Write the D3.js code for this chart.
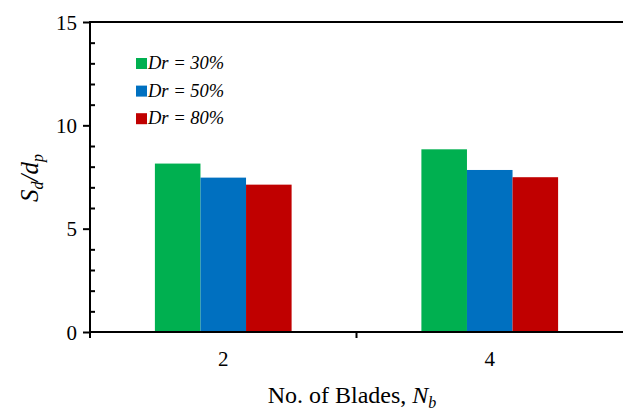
<!DOCTYPE html>
<html>
<head>
<meta charset="utf-8">
<script src="https://cdn.jsdelivr.net/npm/d3@7"></script>
<style>
  html, body { margin: 0; padding: 0; background: #fff; }
  svg text { font-family: "Liberation Serif", "DejaVu Serif", serif; }
</style>
</head>
<body>
<div id="chart"></div>
<script>
// Blade count categories and separation ratio S_d/d_p for each relative density
const categories = ["2", "4"];
const seriesNames = ["Dr = 30%", "Dr = 50%", "Dr = 80%"];
const dr30 = [8.15, 8.84];
const dr50 = [7.47, 7.84];
const dr80 = [7.13, 7.49];
const seriesColors = ["#00b050", "#0070c0", "#c00000"];
const yTicks = [0, 5, 10, 15];
const yMinorTicks = [1, 2, 3, 4, 6, 7, 8, 9, 11, 12, 13, 14];

const FONT = "Liberation Serif";
const W = 623, H = 411;
const margin = { left: 90, right: 0, top: 22, bottom: 79 };
const iw = W - margin.left - margin.right;
const ih = H - margin.top - margin.bottom;

const svg = d3.select("#chart").append("svg")
  .attr("width", W).attr("height", H).attr("font-family", FONT);

const g = svg.append("g").attr("transform", `translate(${margin.left},${margin.top})`);

const x = d3.scaleBand().domain(categories).range([0, iw]).paddingInner(0).paddingOuter(0);
const y = d3.scaleLinear().domain([0, 15]).range([ih, 0]);
const groupW = x.bandwidth() * 0.513;
const xs = d3.scaleBand().domain(seriesNames).range([0, groupW]).padding(0);

const series = [dr30, dr50, dr80];
const rows = categories.map((c, i) => ({ cat: c, vals: series.map((s, k) => ({ name: seriesNames[k], v: s[i], color: seriesColors[k] })) }));

// bars
const grp = g.selectAll(".grp").data(rows).join("g")
  .attr("transform", d => `translate(${x(d.cat) + (x.bandwidth() - groupW) / 2},0)`);
grp.selectAll("rect").data(d => d.vals).join("rect")
  .attr("x", d => xs(d.name))
  .attr("width", xs.bandwidth())
  .attr("y", d => y(d.v))
  .attr("height", d => y(0) - y(d.v))
  .attr("fill", d => d.color);

// top frame line
g.append("line").attr("x1", 0).attr("x2", iw).attr("y1", 0).attr("y2", 0)
  .attr("stroke", "#000").attr("stroke-width", 2);

// y axis: major ticks outside, minor ticks inside
const yAxis = d3.axisLeft(y).tickValues(yTicks).tickSize(7).tickPadding(6).tickFormat(d3.format("d"));
const ya = g.append("g").call(yAxis).attr("font-family", FONT);
ya.select(".domain").remove();
ya.selectAll(".tick line").attr("stroke", "#000").attr("stroke-width", 2);
ya.selectAll(".tick text").attr("font-size", 21).attr("fill", "#000").attr("dy", "0.34em");
const yMinor = g.append("g").call(d3.axisRight(y).tickValues(yMinorTicks).tickSize(5).tickFormat(""));
yMinor.select(".domain").remove();
yMinor.selectAll(".tick line").attr("stroke", "#000").attr("stroke-width", 2);
g.append("line").attr("x1", 0).attr("x2", 0).attr("y1", -1).attr("y2", ih + 6)
  .attr("stroke", "#000").attr("stroke-width", 2);

// x axis: ticks at category boundaries, labels centered
const xa = g.append("g").attr("transform", `translate(0,${ih})`);
xa.append("line").attr("x1", 0).attr("x2", iw).attr("stroke", "#000").attr("stroke-width", 2);
xa.selectAll(".bt").data(categories.slice(1)).join("line")
  .attr("x1", d => x(d)).attr("x2", d => x(d)).attr("y1", 0).attr("y2", 6)
  .attr("stroke", "#000").attr("stroke-width", 2);
xa.selectAll(".lbl").data(categories).join("text")
  .attr("x", d => x(d) + x.bandwidth() / 2).attr("y", 34)
  .attr("text-anchor", "middle").attr("font-size", 21).attr("fill", "#000").text(d => d);

// axis titles
const xt = svg.append("text").attr("x", 352).attr("y", 403).attr("text-anchor", "middle")
  .attr("font-size", 24).attr("fill", "#000");
xt.append("tspan").text("No. of Blades, ");
xt.append("tspan").attr("font-style", "italic").text("N");
xt.append("tspan").attr("font-style", "italic").attr("font-size", 16).attr("dy", 5).text("b");

const yt = svg.append("text").attr("transform", "translate(38,178) rotate(-90)")
  .attr("text-anchor", "middle").attr("font-size", 25).attr("font-style", "italic").attr("fill", "#000");
yt.append("tspan").text("S");
yt.append("tspan").attr("font-size", 16).attr("dy", 5).text("d");
yt.append("tspan").attr("dy", -5).text("/d");
yt.append("tspan").attr("font-size", 16).attr("dy", 5).text("p");

// legend
const lg = svg.append("g").attr("transform", "translate(136,58)");
const li = lg.selectAll("g").data(seriesNames).join("g")
  .attr("transform", (d, i) => `translate(0,${i * 27.6})`);
li.append("rect").attr("width", 11).attr("height", 11).attr("fill", (d, i) => seriesColors[i]);
li.append("text").attr("x", 12).attr("y", 11).attr("font-size", 18.5).attr("font-style", "italic")
  .attr("fill", "#000").text(d => d);
</script>
</body>
</html>
